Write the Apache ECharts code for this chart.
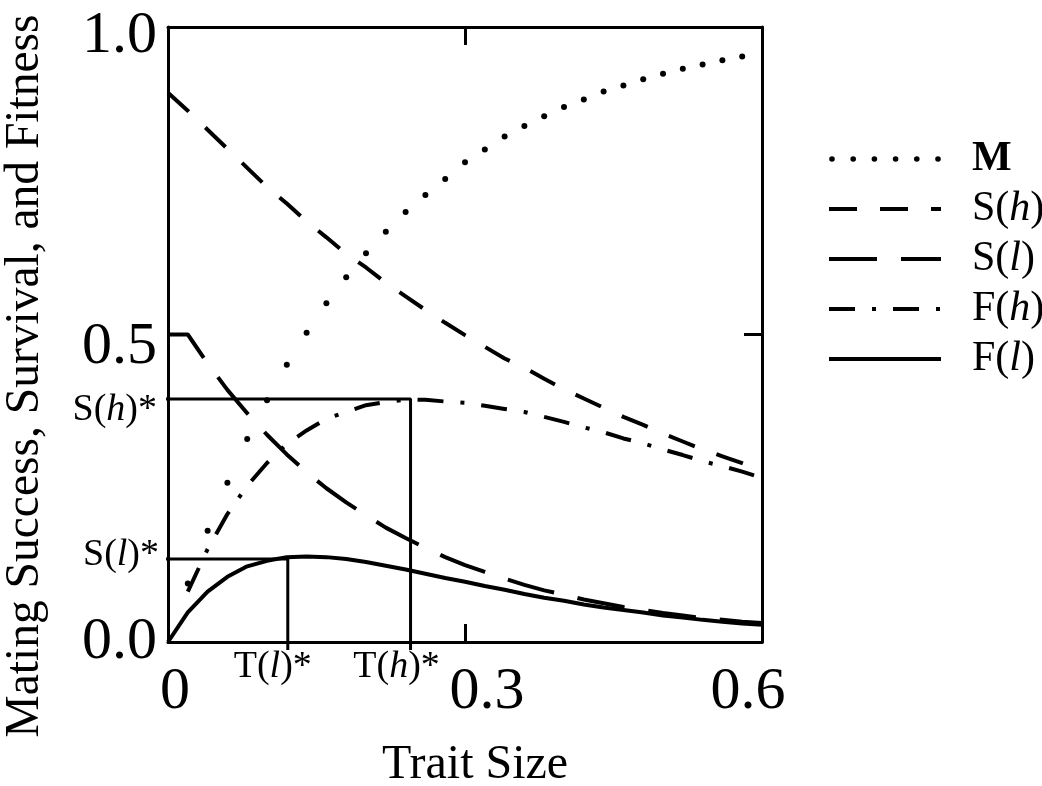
<!DOCTYPE html>
<html><head><meta charset="utf-8">
<script src="https://cdn.jsdelivr.net/npm/echarts@6/dist/echarts.min.js"></script>
<style>html,body{margin:0;padding:0;background:#fff}#c{width:1042px;height:786px}</style>
</head><body><div id="c"></div>
<script>
// ---- data ----
const traitSize = [0,0.02,0.04,0.06,0.08,0.10,0.12,0.14,0.16,0.18,0.20,0.22,0.24,0.26,0.28,0.30,0.32,0.34,0.36,0.38,0.40,0.42,0.44,0.46,0.48,0.50,0.52,0.54,0.56,0.58,0.60];
const matingM = [null,0.095,0.181,0.259,0.330,0.393,0.451,0.503,0.551,0.593,0.632,0.667,0.699,0.727,0.753,0.780,0.801,0.822,0.839,0.855,0.870,0.882,0.895,0.905,0.915,0.924,0.932,0.939,0.946,0.952,null];
const survivalH = [0.893,0.864,0.833,0.802,0.771,0.740,0.713,0.684,0.658,0.631,0.609,0.584,0.562,0.540,0.519,0.499,0.480,0.461,0.446,0.428,0.411,0.396,0.381,0.366,0.353,0.339,0.326,0.313,0.302,0.291,0.279];
const survivalL = [0.5,0.5,0.453,0.410,0.372,0.337,0.305,0.276,0.250,0.227,0.206,0.186,0.169,0.153,0.138,0.125,0.114,0.103,0.093,0.084,0.077,0.069,0.063,0.057,0.052,0.047,0.043,0.039,0.036,0.033,0.031];
const fitnessH = [null,0.082,0.151,0.208,0.254,0.291,0.322,0.344,0.363,0.374,0.385,0.390,0.394,0.394,0.391,0.389,0.384,0.379,0.374,0.366,0.358,0.349,0.341,0.331,0.323,0.313,0.304,0.294,0.286,0.277,0.267];
const fitnessL = [0,0.048,0.082,0.106,0.123,0.132,0.138,0.139,0.138,0.135,0.130,0.124,0.118,0.111,0.104,0.098,0.091,0.085,0.078,0.072,0.067,0.061,0.056,0.052,0.048,0.043,0.040,0.036,0.033,0.030,0.028];
const optimumT = {l: 0.121, h: 0.245};   // T(l)*, T(h)*
const optimumS = {l: 0.135, h: 0.395};   // S(l)*, S(h)*
const xTicks = [0, 0.3, 0.6];
const yTicks = [0, 0.5, 1.0];
const seriesNames = ['M','S(h)','S(l)','F(h)','F(l)'];

const FONT = '"Liberation Serif","Times New Roman",serif';
const pairs = ys => traitSize.map((x,i)=>[x, ys[i]]);
const rt = {
  n:{fontFamily:FONT,fontSize:42,color:'#000',lineHeight:44},
  p:{fontFamily:FONT,fontSize:42,color:'#000',lineHeight:44,padding:[0,0,0,26]},
  pb:{fontFamily:FONT,fontSize:42,color:'#000',lineHeight:44,fontWeight:'bold',padding:[0,0,0,26]},
  i:{fontFamily:FONT,fontSize:42,color:'#000',lineHeight:44,fontStyle:'italic'}
};
function legendText(name){
  if(name==='M') return '{pb|M}';
  const m = name.match(/^(\w)\((\w)\)$/);
  return '{p|'+m[1]+'(}{i|'+m[2]+'}{n|)}';
}
// dots icon for M legend (6 dots in a 112x20 box)
let dotPath = 'path://M0,0L0.01,0L0.01,0.01Z M112,20L111.99,20L111.99,19.99Z';
[3,24.2,45.4,66.6,87.8,109].forEach(cx=>{
  const r=2.8;
  dotPath += ' M'+(cx-r)+',10a'+r+','+r+' 0 1,0 '+(2*r)+',0a'+r+','+r+' 0 1,0 '+(-2*r)+',0Z';
});
const hideSym = {color:'rgba(0,0,0,0)',borderColor:'rgba(0,0,0,0)',borderWidth:0};

const annRich = {
  n:{fontFamily:FONT,fontSize:38,color:'#000',lineHeight:40},
  i:{fontFamily:FONT,fontSize:38,color:'#000',lineHeight:40,fontStyle:'italic'}
};
const starLabel = (letter, sub) => '{n|'+letter+'(}{i|'+sub+'}{n|)*}';

const chart = echarts.init(document.getElementById('c'), null, {renderer:'canvas'});
const axisCommon = {
  type:'value',
  axisLine:{show:true,onZero:false,lineStyle:{color:'#000',width:3}},
  axisTick:{show:true,inside:true,length:18,lineStyle:{color:'#000',width:3}},
  splitLine:{show:false}
};
chart.setOption({
  animation:false,
  backgroundColor:'#fff',
  grid:{left:168,right:280,top:27,bottom:144,containLabel:false,outerBoundsMode:'none'},
  xAxis:[
    Object.assign({}, axisCommon, {min:xTicks[0],max:xTicks[2],interval:xTicks[1],
      axisLabel:{margin:20,formatter:v=>{
        const t = (v===0?'0':v.toFixed(1));
        if(v===0) return '{a|'+t+'}';
        if(Math.abs(v-0.3)<1e-9) return '{b|'+t+'}';
        return '{c|'+t+'}';
      },rich:{
        a:{fontFamily:FONT,fontSize:60,color:'#000',lineHeight:60,padding:[0,0,0,14]},
        b:{fontFamily:FONT,fontSize:60,color:'#000',lineHeight:60,padding:[0,0,0,44]},
        c:{fontFamily:FONT,fontSize:60,color:'#000',lineHeight:60,padding:[0,28,0,0]}
      }}}),
    Object.assign({}, axisCommon, {position:'top',min:xTicks[0],max:xTicks[2],interval:xTicks[1],axisLabel:{show:false}})
  ],
  yAxis:[
    Object.assign({}, axisCommon, {min:yTicks[0],max:yTicks[2],interval:yTicks[1],
      axisLabel:{margin:11,formatter:v=>{
        const t=v.toFixed(1);
        if(v===1) return '{t|'+t+'}';
        if(v===0.5) return '{m|'+t+'}';
        return '{b|'+t+'}';
      },rich:{
        t:{fontFamily:FONT,fontSize:60,color:'#000',lineHeight:60,padding:[18,0,0,0]},
        m:{fontFamily:FONT,fontSize:60,color:'#000',lineHeight:60,padding:[26,0,0,0]},
        b:{fontFamily:FONT,fontSize:60,color:'#000',lineHeight:60,padding:[0,0,0,0]}
      }}}),
    Object.assign({}, axisCommon, {position:'right',min:yTicks[0],max:yTicks[2],interval:yTicks[1],axisLabel:{show:false}})
  ],
  legend:{
    orient:'vertical',left:822,top:133,itemWidth:112,itemHeight:20,itemGap:8,
    data:[{name:'M',icon:dotPath,itemStyle:{color:'#000',opacity:1}},
      {name:'S(h)',itemStyle:hideSym},{name:'S(l)',itemStyle:hideSym},
      {name:'F(h)',itemStyle:hideSym},{name:'F(l)',itemStyle:hideSym}],
    formatter:legendText,
    textStyle:{fontFamily:FONT,fontSize:42,color:'#000',rich:rt},
    lineStyle:{width:4},
    selectedMode:false
  },
  graphic:[
    {type:'text',x:475,y:765,style:{text:'Trait Size',fontFamily:FONT,fontSize:48,fill:'#000',align:'center',verticalAlign:'middle'}},
    {type:'text',x:26,y:376,rotation:Math.PI/2,style:{text:'Mating Success, Survival, and Fitness',fontFamily:FONT,fontSize:47.5,fill:'#000',align:'center',verticalAlign:'middle'}}
  ],
  series:[
    {name:'M',type:'scatter',data:pairs(matingM),symbol:'circle',symbolSize:6,itemStyle:{color:'#000',opacity:1},silent:true},
    {name:'S(h)',type:'line',data:pairs(survivalH),showSymbol:false,symbol:'none',lineStyle:{color:'#000',width:4,type:[28,23]},itemStyle:{color:'#000'},silent:true},
    {name:'S(l)',type:'line',data:pairs(survivalL),showSymbol:false,symbol:'none',lineStyle:{color:'#000',width:4,type:[48,24]},itemStyle:{color:'#000'},silent:true},
    {name:'F(h)',type:'line',data:pairs(fitnessH),showSymbol:false,symbol:'none',lineStyle:{color:'#000',width:4,type:[26,17,4,17]},itemStyle:{color:'#000'},silent:true},
    {name:'F(l)',type:'line',data:pairs(fitnessL),showSymbol:false,symbol:'none',lineStyle:{color:'#000',width:4},itemStyle:{color:'#000'},silent:true},
    {name:'guideH',type:'line',data:[[-0.005,optimumS.h],[optimumT.h,optimumS.h],[optimumT.h,-0.013]],symbol:'none',clip:false,lineStyle:{color:'#000',width:3},silent:true},
    {name:'guideL',type:'line',data:[[-0.005,optimumS.l],[optimumT.l,optimumS.l],[optimumT.l,-0.013]],symbol:'none',clip:false,lineStyle:{color:'#000',width:3},silent:true},
    {name:'annot',type:'scatter',symbolSize:0.1,itemStyle:{color:'#fff',opacity:0},silent:true,clip:false,
     label:{show:true,position:'inside',color:'#000',opacity:1,textBorderWidth:0,rich:annRich},
     data:[
       {value:[0,optimumS.h],label:{align:'right',offset:[-11,11],formatter:starLabel('S','h')}},
       {value:[0,optimumS.l],label:{align:'right',offset:[-9,-4],formatter:starLabel('S','l')}},
       {value:[optimumT.l,0],label:{align:'center',offset:[-15,25],formatter:starLabel('T','l')}},
       {value:[optimumT.h,0],label:{align:'center',offset:[-14,25],formatter:starLabel('T','h')}}
     ]}
  ]
});
</script></body></html>
